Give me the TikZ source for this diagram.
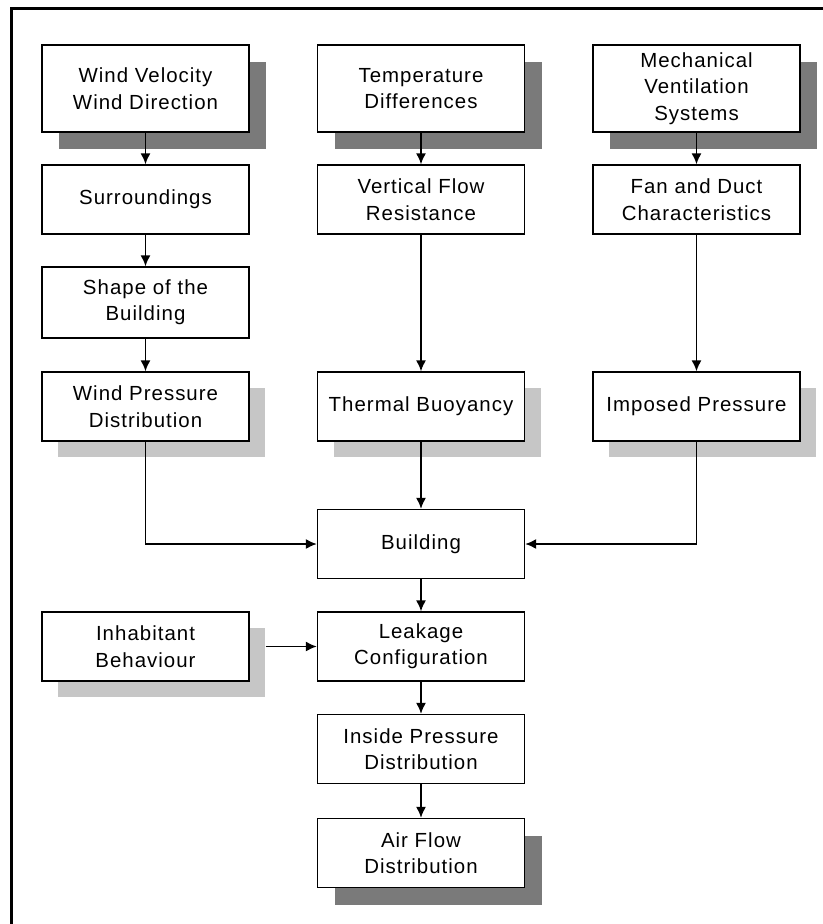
\documentclass[tikz,border=0pt]{standalone}
\usepackage{fontspec}
\setmainfont{Liberation Sans}[LetterSpace=5]
\usetikzlibrary{shadows,arrows.meta}
\definecolor{darkshade}{RGB}{122,122,122}
\definecolor{lightshade}{RGB}{198,198,198}
\begin{document}
\begin{tikzpicture}[x=1bp,y=-1bp,
    box/.style={draw,fill=white,line width=1.4bp,minimum width=207bp,minimum height=69bp,
      inner sep=0pt,align=center,font=\fontsize{20.5}{26.5}\selectfont},
    tallbox/.style={box,minimum height=87bp},
    darkshadow/.style={drop shadow={shadow xshift=17bp,shadow yshift=-17bp,fill=darkshade,opacity=1}},
    lightshadow/.style={drop shadow={shadow xshift=16bp,shadow yshift=-16bp,fill=lightshade,opacity=1}}]
  \useasboundingbox (0,0) rectangle (823,924);
  \draw[line width=3bp] (11,924) -- (11,8) -- (823,8);

  % top row
  \node[tallbox,darkshadow] (wind) at (145.5,88.5) {Wind Velocity\\Wind Direction};
  \node[tallbox,darkshadow] (temp) at (421,88.5) {Temperature\\Differences};
  \node[tallbox,darkshadow] (mech) at (696.5,88.5) {Mechanical\\Ventilation\\Systems};

  \node[box] (surr) at (145.5,199.5) {Surroundings};
  \node[box] (vert) at (421,199.5) {Vertical Flow\\Resistance};
  \node[box] (fan) at (696.5,199.5) {Fan and Duct\\Characteristics};

  \node[box,minimum height=71bp] (shape) at (145.5,302.5) {Shape of the\\Building};

  \node[box,lightshadow] (windp) at (145.5,406.5) {Wind Pressure\\Distribution};
  \node[box,lightshadow] (therm) at (421,406.5) {Thermal Buoyancy};
  \node[box,lightshadow] (imp) at (696.5,406.5) {Imposed Pressure};

  % centre column
  \node[box] (build) at (421,544) {Building};
  \node[box,lightshadow] (inhab) at (145.5,646.5) {Inhabitant\\Behaviour};
  \node[box] (leak) at (421,646.5) {Leakage\\Configuration};
  \node[box] (inside) at (421,749) {Inside Pressure\\Distribution};
  \node[box,darkshadow] (air) at (421,853) {Air Flow\\Distribution};

  \begin{scope}[->,>={Latex[length=11bp,width=10bp]},line width=1.5bp]
    \draw (wind) -- (surr);
    \draw (surr) -- (shape);
    \draw (shape) -- (windp);
    \draw (temp) -- (vert);
    \draw (vert) -- (therm);
    \draw (mech) -- (fan);
    \draw (fan) -- (imp);
    \draw (windp.south) |- (build.west);
    \draw (therm) -- (build);
    \draw (imp.south) |- (build.east);
    \draw (build) -- (leak);
    \draw ([xshift=16bp]inhab.east) -- (leak.west);
    \draw (leak) -- (inside);
    \draw (inside) -- (air);
  \end{scope}
\end{tikzpicture}
\end{document}
